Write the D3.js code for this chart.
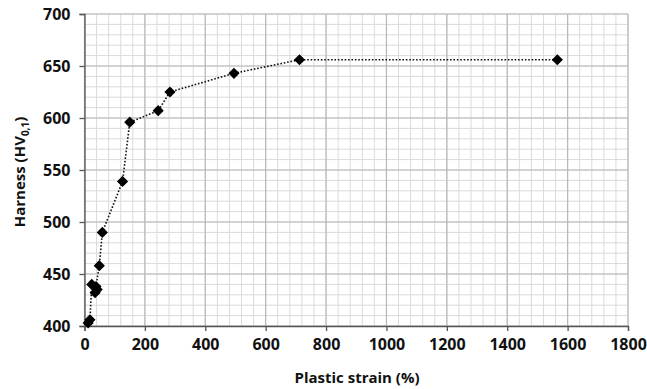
<!DOCTYPE html>
<html>
<head>
<meta charset="utf-8">
<script src="https://cdn.jsdelivr.net/npm/d3@7"></script>
<style>
  body { margin: 0; background: #fff; }
  svg text { font-family: "Open Sans", sans-serif; font-weight: bold; fill: #111; }
</style>
</head>
<body>
<div id="chart"></div>
<script>
// values
const strain = [12, 18, 24, 35, 42, 38, 49, 59, 126, 150, 244, 283, 495, 712, 1566]
const hardness = [403, 406, 440, 432, 435, 438, 458, 490, 539, 596, 607, 625, 643, 656, 656]
const xTicks = [0, 200, 400, 600, 800, 1000, 1200, 1400, 1600, 1800]
const yTicks = [400, 450, 500, 550, 600, 650, 700]

const width = 647, height = 389
const margin = { top: 14, right: 19, bottom: 63, left: 84.5 }

const svg = d3.select("#chart")
    .append("svg")
    .attr("width", width)
    .attr("height", height)

const x = d3.scaleLinear().domain([0, 1800]).range([margin.left, width - margin.right])
const y = d3.scaleLinear().domain([400, 700]).range([height - margin.bottom, margin.top])

// minor grid
const grid = svg.append("g")
grid.selectAll(".vminor")
    .data(d3.range(0, 1801, 40))
    .enter().append("line")
    .attr("x1", d => x(d)).attr("x2", d => x(d))
    .attr("y1", y(400)).attr("y2", y(700))
    .attr("stroke", "#dadada").attr("stroke-width", 1)
grid.selectAll(".hminor")
    .data(d3.range(400, 701, 10))
    .enter().append("line")
    .attr("y1", d => y(d)).attr("y2", d => y(d))
    .attr("x1", x(0)).attr("x2", x(1800))
    .attr("stroke", "#dadada").attr("stroke-width", 1)
// major grid
grid.selectAll(".vmajor")
    .data(xTicks)
    .enter().append("line")
    .attr("x1", d => x(d)).attr("x2", d => x(d))
    .attr("y1", y(400)).attr("y2", y(700))
    .attr("stroke", "#b8b8b8").attr("stroke-width", 1.2)
grid.selectAll(".hmajor")
    .data(yTicks)
    .enter().append("line")
    .attr("y1", d => y(d)).attr("y2", d => y(d))
    .attr("x1", x(0)).attr("x2", x(1800))
    .attr("stroke", "#b8b8b8").attr("stroke-width", 1.2)

// axes
const xAxis = svg.append("g")
    .attr("transform", "translate(0," + y(400) + ")")
    .call(d3.axisBottom(x).tickValues(xTicks).tickFormat(d3.format("d")).tickSize(5).tickPadding(8))
const yAxis = svg.append("g")
    .attr("transform", "translate(" + x(0) + ",0)")
    .call(d3.axisLeft(y).tickValues(yTicks).tickFormat(d3.format("d")).tickSize(5).tickPadding(9))

for (const ax of [xAxis, yAxis]) {
    ax.select(".domain").attr("stroke", "#555").attr("stroke-width", 1.3)
    ax.selectAll(".tick line").attr("stroke", "#555").attr("stroke-width", 1.3)
    ax.selectAll(".tick text").attr("font-size", 16).attr("font-family", "'Open Sans', sans-serif")
        .attr("font-weight", "bold").attr("fill", "#111")
}

// dotted line + markers
const pts = strain.map((s, i) => [s, hardness[i]])
svg.append("path")
    .datum(pts)
    .attr("fill", "none")
    .attr("stroke", "#111")
    .attr("stroke-width", 1.6)
    .attr("stroke-dasharray", "1.6,1.8")
    .attr("d", d3.line().x(d => x(d[0])).y(d => y(d[1])))

svg.selectAll(".pt")
    .data(pts)
    .enter().append("path")
    .attr("transform", d => "translate(" + x(d[0]) + "," + y(d[1]) + ")")
    .attr("d", d3.symbol().type(d3.symbolDiamond2).size(80))
    .attr("fill", "#000")

// titles
svg.append("text")
    .attr("x", 357).attr("y", 383)
    .attr("text-anchor", "middle")
    .attr("font-size", 15)
    .text("Plastic strain (%)")

const yt = svg.append("text")
    .attr("transform", "translate(25," + 172 + ") rotate(-90)")
    .attr("text-anchor", "middle")
    .attr("font-size", 15)
yt.append("tspan").text("Harness (HV")
yt.append("tspan").attr("font-size", 10).attr("dy", 4).text("0,1")
yt.append("tspan").attr("dy", -4).text(")")
</script>
</body>
</html>
